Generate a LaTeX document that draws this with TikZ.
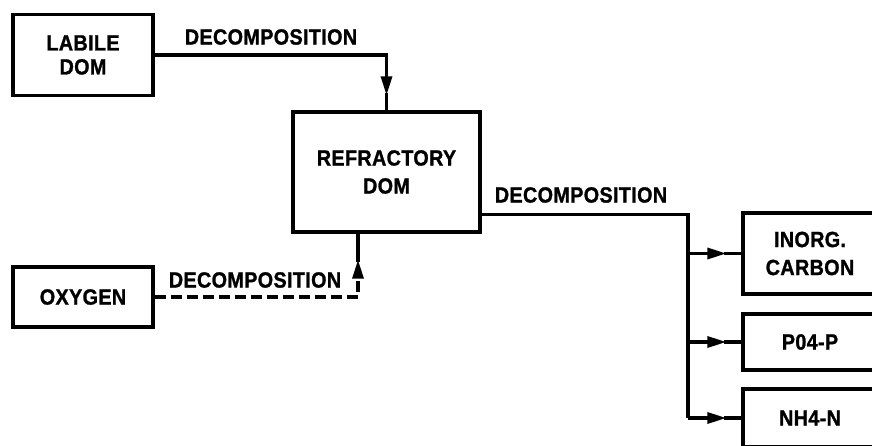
\documentclass[tikz,border=0pt]{standalone}
\usepackage{fontspec}
\newfontfamily\hf{Liberation Sans Bold}[FakeBold=1.2,FakeStretch=0.9,LetterSpace=1.5]
\usetikzlibrary{arrows.meta,calc}
\begin{document}
\begin{tikzpicture}[x=1pt,y=-1pt,
  box/.style={draw,line width=3.4pt,rectangle,align=center,inner sep=0pt,
    font=\hf\fontsize{22}{24}\selectfont},
  lbl/.style={font=\hf\fontsize{22}{24}\selectfont,inner sep=0pt},
  conn/.style={line width=3.4pt},
  tip/.style={-{Triangle[length=19pt,width=11pt]}},
  dsh/.style={dash pattern=on 11pt off 5pt}]
\useasboundingbox (0,0) rectangle (872,446);
\node[box,minimum width=140pt,minimum height=81pt] (labile) at (83,55) {LABILE\\DOM};
\node[box,minimum width=187pt,minimum height=120pt,font=\hf\fontsize{22}{28}\selectfont] (ref) at (386.5,172) {REFRACTORY\\DOM};
\node[box,minimum width=140pt,minimum height=60pt] (oxy) at (83,297) {OXYGEN};
\node[box,minimum width=134pt,minimum height=81pt,font=\hf\fontsize{22}{28}\selectfont] (inorg) at (810,253.5) {INORG.\\CARBON};
\node[box,minimum width=134pt,minimum height=56pt] (po) at (810,342) {P04-P};
\node[box,minimum width=134pt,minimum height=58pt] (nh) at (810,418) {NH4-N};
\node[lbl] (l1) at (271,37) {DECOMPOSITION};
\node[lbl] (l2) at (255,280) {DECOMPOSITION};
\node[lbl] (l3) at (581,195) {DECOMPOSITION};
% labile -> refractory
\coordinate (a1) at ($(ref.north)+(0,-15)$);
\draw[conn,tip] (labile.east) -| (a1);
\draw[conn] ($(a1)+(0,-2)$) -- (ref.north);
% oxygen -> refractory
\coordinate (b0) at ($(ref.south)+(-28.5,0)$);
\coordinate (b1) at ($(b0)+(0,26)$);
\draw[conn,dsh,tip] (oxy.east) -| (b1);
\draw[conn] ($(b1)+(0,2)$) -- (b0);
% refractory -> products
\coordinate (s) at ($(ref.south east)+(0,-19)$);
\coordinate (j) at (688,0);
\draw[conn] (s) -| (j |- nh.west);
\foreach \t in {inorg,po,nh}{
  \coordinate (t\t) at ($(\t.west)+(-15,0)$);
  \draw[conn,tip] (j |- \t.west) -- (t\t);
  \draw[conn] ($(t\t)+(-2,0)$) -- (\t.west);
}
\end{tikzpicture}
\end{document}
